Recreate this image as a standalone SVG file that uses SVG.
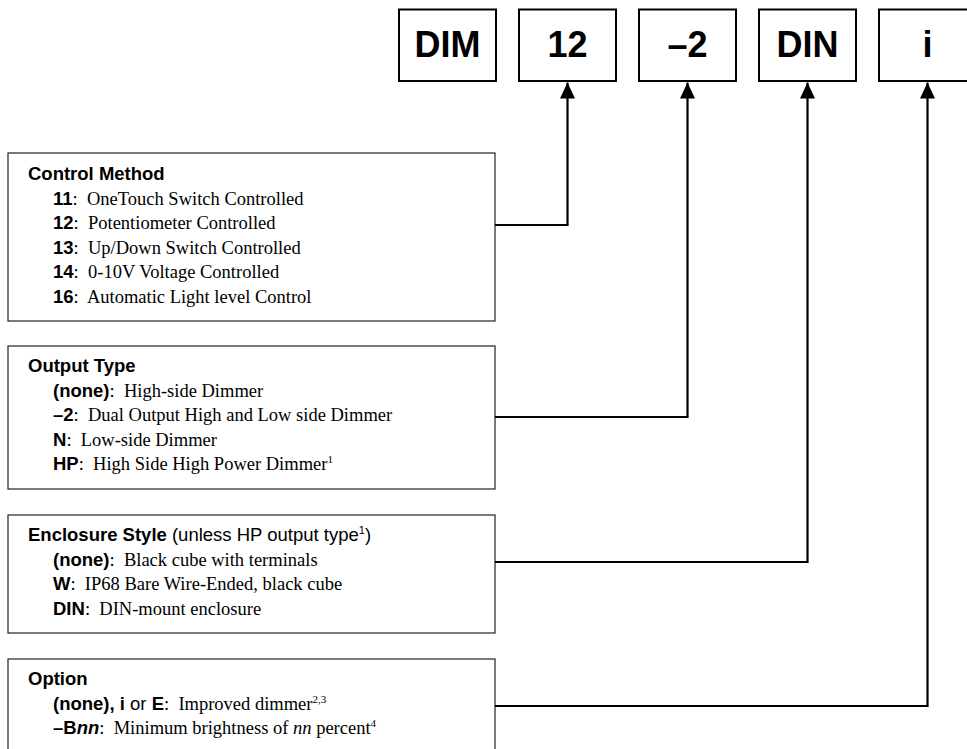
<svg xmlns="http://www.w3.org/2000/svg" width="967" height="749" viewBox="0 0 967 749">
<style>
.code{fill:#fff;stroke:#000;stroke-width:2}
.codet{font-family:"Liberation Sans",Arial,sans-serif;font-weight:bold;font-size:36px;text-anchor:middle;fill:#000}
.box{fill:#fff;stroke:#222;stroke-width:1.2}
.t{font-family:"Liberation Serif","Times New Roman",serif;font-size:18.5px;fill:#000;white-space:pre}
.s{font-family:"Liberation Sans",Arial,sans-serif}
.b{font-family:"Liberation Sans",Arial,sans-serif;font-weight:bold}
.conn{fill:none;stroke:#000;stroke-width:2.2}
</style>
<defs>
<marker id="arr" markerUnits="userSpaceOnUse" viewBox="0 0 16 15" markerWidth="16" markerHeight="15" refX="16" refY="7.5" orient="auto">
<path d="M0,0 L16,7.5 L0,15 z" fill="#000"/>
</marker>
</defs>
<rect width="967" height="749" fill="#fff"/>
<g id="code-dim"><rect class="code" x="399" y="9.5" width="97" height="71.5"/><text class="codet" x="447.5" y="57">DIM</text></g>
<g id="code-12"><rect class="code" x="519" y="9.5" width="97" height="71.5"/><text class="codet" x="567.5" y="57">12</text></g>
<g id="code-2"><rect class="code" x="639" y="9.5" width="97" height="71.5"/><text class="codet" x="687.5" y="57">–2</text></g>
<g id="code-din"><rect class="code" x="759" y="9.5" width="97" height="71.5"/><text class="codet" x="807.5" y="57">DIN</text></g>
<g id="code-i"><rect class="code" x="879" y="9.5" width="97" height="71.5"/><text class="codet" x="927.5" y="57">i</text></g>

<g id="control-method">
<rect class="box" x="8" y="153" width="487" height="168"/>
<text class="t" x="28" y="180"><tspan class="b">Control Method</tspan></text>
<text class="t" x="53" y="204.5"><tspan class="b">11</tspan>:&#160; OneTouch Switch Controlled</text>
<text class="t" x="53" y="229"><tspan class="b">12</tspan>:&#160; Potentiometer Controlled</text>
<text class="t" x="53" y="253.5"><tspan class="b">13</tspan>:&#160; Up/Down Switch Controlled</text>
<text class="t" x="53" y="278"><tspan class="b">14</tspan>:&#160; 0-10V Voltage Controlled</text>
<text class="t" x="53" y="302.5"><tspan class="b">16</tspan>:&#160; Automatic Light level Control</text>
</g>

<g id="output-type">
<rect class="box" x="8" y="346" width="487" height="143"/>
<text class="t" x="28" y="372"><tspan class="b">Output Type</tspan></text>
<text class="t" x="53" y="396.5"><tspan class="b">(none)</tspan>:&#160; High-side Dimmer</text>
<text class="t" x="53" y="421"><tspan class="b">–2</tspan>:&#160; Dual Output High and Low side Dimmer</text>
<text class="t" x="53" y="445.5"><tspan class="b">N</tspan>:&#160; Low-side Dimmer</text>
<text class="t" x="53" y="470"><tspan class="b">HP</tspan>:&#160; High Side High Power Dimmer<tspan font-size="11" dy="-7">1</tspan></text>
</g>

<g id="enclosure-style">
<rect class="box" x="8" y="515" width="487" height="118"/>
<text class="t" x="28" y="541"><tspan class="b">Enclosure Style</tspan><tspan class="s"> (unless HP output type</tspan><tspan class="s" font-size="11" dy="-7">1</tspan><tspan class="s" dy="7">)</tspan></text>
<text class="t" x="53" y="565.5"><tspan class="b">(none)</tspan>:&#160; Black cube with terminals</text>
<text class="t" x="53" y="590"><tspan class="b">W</tspan>:&#160; IP68 Bare Wire-Ended, black cube</text>
<text class="t" x="53" y="614.5"><tspan class="b">DIN</tspan>:&#160; DIN-mount enclosure</text>
</g>

<g id="option">
<rect class="box" x="8" y="659" width="487" height="94"/>
<text class="t" x="28" y="685"><tspan class="b">Option</tspan></text>
<text class="t" x="53" y="709.5"><tspan class="b">(none), i</tspan><tspan class="s"> or </tspan><tspan class="b">E</tspan>:&#160; Improved dimmer<tspan font-size="11" dy="-7">2,3</tspan></text>
<text class="t" x="53" y="734"><tspan class="b">–B</tspan><tspan class="b" font-style="italic">nn</tspan>:&#160; Minimum brightness of <tspan font-style="italic">nn</tspan> percent<tspan font-size="11" dy="-7">4</tspan></text>
</g>

<g id="connectors">
<path class="conn" d="M495,225 H567.5 V82.5" marker-end="url(#arr)"/>
<path class="conn" d="M495,417 H687.5 V82.5" marker-end="url(#arr)"/>
<path class="conn" d="M495,562 H807.5 V82.5" marker-end="url(#arr)"/>
<path class="conn" d="M495,706 H927.5 V82.5" marker-end="url(#arr)"/>
</g>
</svg>
